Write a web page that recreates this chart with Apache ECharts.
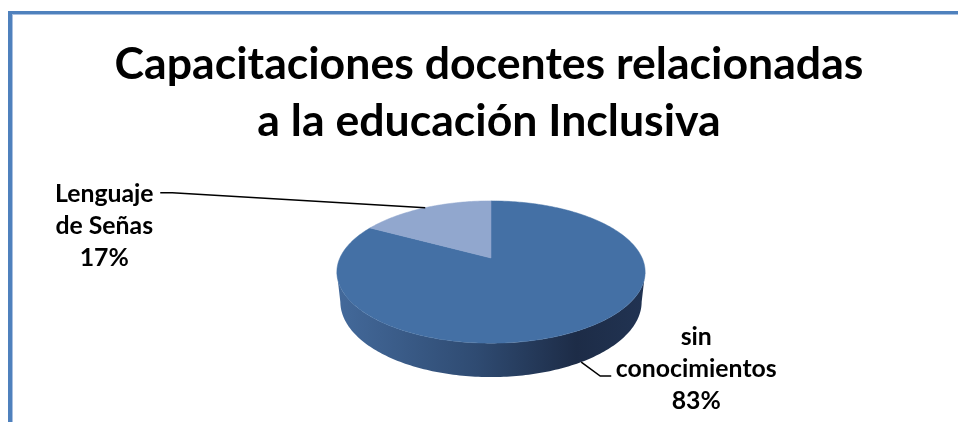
<!DOCTYPE html>
<html><head><meta charset="utf-8">
<script src="https://cdn.jsdelivr.net/npm/echarts@6/dist/echarts.min.js"></script>
<style>html,body{margin:0;padding:0;background:#fff}#c{width:958px;height:422px}</style>
</head><body><div id="c"></div>
<script>
// ---- data ----
const titleText = 'Capacitaciones docentes relacionadas\na la educación Inclusiva';
const categories = ['sin conocimientos', 'Lenguaje de Señas'];
const labelLines = [['sin', 'conocimientos'], ['Lenguaje', 'de Señas']];
const values = [83, 17];
const sliceColors = ['#4470a5', '#91a7ce'];

// ---- style / layout ----
const FONT = 'Lato';
function fitSize(text, target) {
  const ctx = document.createElement('canvas').getContext('2d');
  ctx.font = 'bold 100px ' + FONT;
  return 100 * target / ctx.measureText(text).width;
}
const titleSize = fitSize('Capacitaciones docentes relacionadas', 749);
const labelSize = fitSize('conocimientos', 161);

const P = { cx: 491, cy: 258, f: 683, D: 4.52, elev: 26.9 * Math.PI / 180, h: 0.2215 };
const cE = Math.cos(P.elev), sE = Math.sin(P.elev);
function proj(a, Y) {
  const r = a * Math.PI / 180;
  const X = Math.sin(r), Z = Math.cos(r);
  const u = Y * cE + Z * sE, w = P.D + Z * cE - Y * sE;
  return [P.cx + P.f * X / w, P.cy - P.f * u / w];
}
const visMin = Math.acos(-cE / P.D) * 180 / Math.PI;
const visMax = 360 - visMin;
const labelOffsets = [
  { elbow: [19, 14], end: [30, 14], text: [115, 7] },
  { elbow: [-253, -15], end: [-265, -15], text: [-321, 18] }
];
const wallGradient = new echarts.graphic.LinearGradient(P.cx - 152, 0, P.cx + 152, 0, [
  { offset: 0, color: '#43699a' },
  { offset: 0.45, color: '#2f4b72' },
  { offset: 0.78, color: '#1d2c47' },
  { offset: 1, color: '#213352' }
], true);

function arc(a1, a2, Y) {
  const pts = [];
  const n = Math.max(2, Math.ceil((a2 - a1) / 1));
  for (let k = 0; k <= n; k++) pts.push(proj(a1 + (a2 - a1) * k / n, Y));
  return pts;
}

function renderItem(params, api) {
  const i = params.dataIndex;
  const total = values.reduce((a, b) => a + b, 0);
  let start = 0;
  for (let k = 0; k < i; k++) start += values[k];
  const v = api.value(0);
  const a1 = start / total * 360, a2 = (start + v) / total * 360;
  const children = [];
  const w1 = Math.max(a1, visMin), w2 = Math.min(a2, visMax);
  if (w2 > w1) {
    const pts = arc(w1, w2, 0).concat(arc(w1, w2, -P.h).reverse());
    children.push({ type: 'polygon', z2: 1, shape: { points: pts },
      style: { fill: wallGradient, stroke: null } });
  }
  const topPts = [[P.cx, P.cy]].concat(arc(a1, a2, 0));
  children.push({ type: 'polygon', z2: 5, shape: { points: topPts },
    style: { fill: sliceColors[i], stroke: sliceColors[i], lineWidth: 0.5 } });
  // label
  const mid = (a1 + a2) / 2;
  const anchor = (mid > visMin && mid < visMax) ? proj(mid, -P.h) : proj(mid, 0);
  const o = labelOffsets[i];
  const pct = Math.round(v / total * 100) + '%';
  children.push({ type: 'polyline', z2: 10, shape: { points: [
      anchor, [anchor[0] + o.elbow[0], anchor[1] + o.elbow[1]], [anchor[0] + o.end[0], anchor[1] + o.end[1]]] },
    style: { stroke: '#000', lineWidth: 1.5, fill: null } });
  children.push({ type: 'text', z2: 10, x: anchor[0] + o.text[0], y: anchor[1] + o.text[1],
    style: { text: labelLines[i].concat([pct]).join('\n'), align: 'center', verticalAlign: 'middle',
      font: 'bold ' + labelSize.toFixed(1) + 'px ' + FONT, lineHeight: 32, fill: '#000' } });
  return { type: 'group', children };
}

const chart = echarts.init(document.getElementById('c'), null, { renderer: 'canvas' });
chart.setOption({
  backgroundColor: '#fff',
  animation: false,
  title: {
    text: titleText, left: 484, top: 31, textAlign: 'center',
    textStyle: { fontFamily: FONT, fontWeight: 'bold', fontSize: titleSize, lineHeight: 57, color: '#000' }
  },
  graphic: [
    { type: 'rect', shape: { x: 8, y: 11, width: 4, height: 411 }, style: { fill: '#4f81bd' } },
    { type: 'rect', shape: { x: 12, y: 14, width: 1, height: 408 }, style: { fill: '#a9c0e0' } },
    { type: 'rect', shape: { x: 8, y: 11, width: 950, height: 3 }, style: { fill: '#4f81bd' } },
    { type: 'rect', shape: { x: 12, y: 14, width: 946, height: 1 }, style: { fill: '#a9c0e0' } }
  ],
  series: [{
    type: 'custom', coordinateSystem: 'none', renderItem,
    data: values.map((v, i) => ({ value: v, name: categories[i] }))
  }]
});
</script></body></html>
